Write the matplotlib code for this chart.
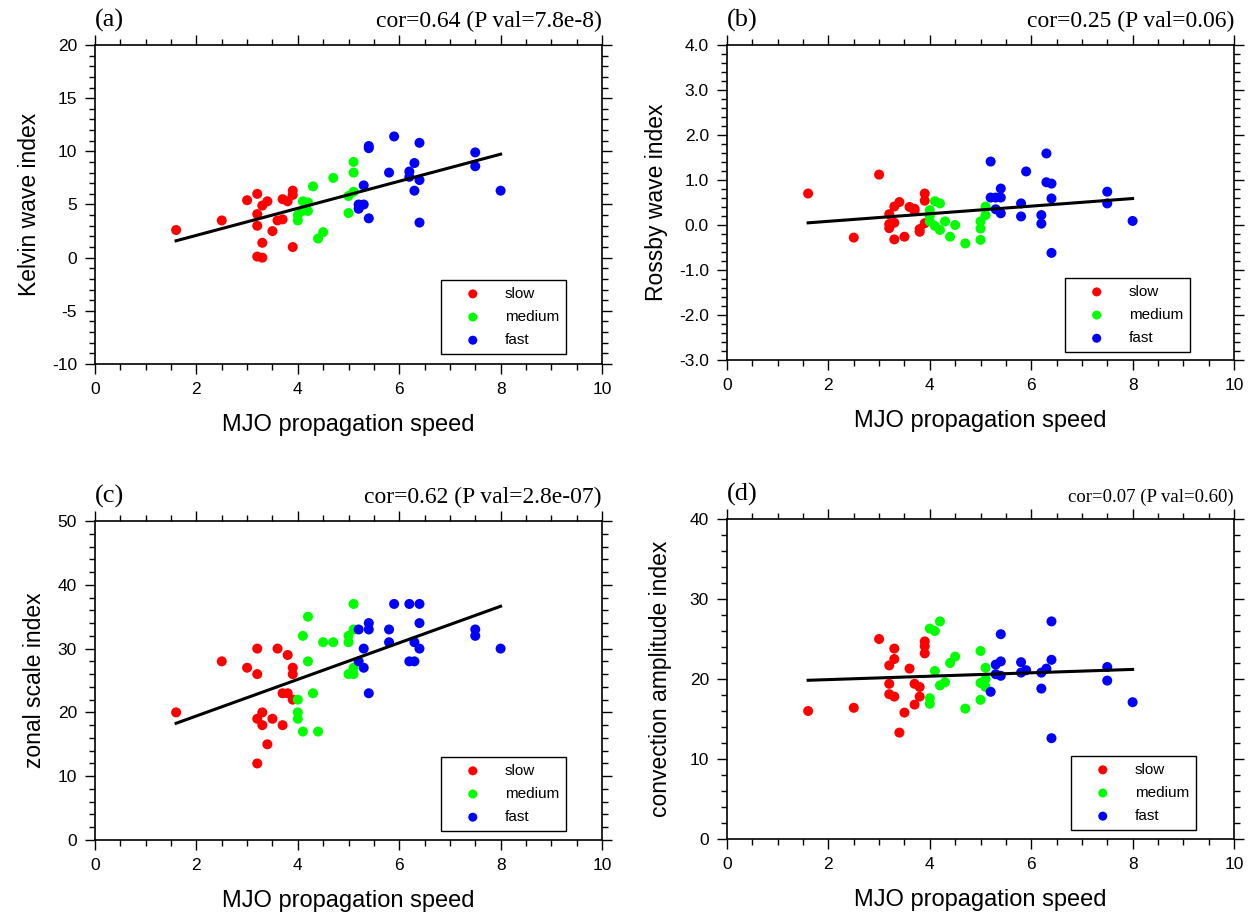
import numpy as np
import matplotlib.pyplot as plt
from matplotlib.ticker import MultipleLocator, FormatStrFormatter

# ---- data ----
# (a) Kelvin wave index
a_slow_x = [1.6, 2.5, 3.0, 3.2, 3.2, 3.2, 3.3, 3.4, 3.3, 3.2, 3.3, 3.5, 3.6, 3.7, 3.7, 3.8, 3.9, 3.9, 3.9]
a_slow_y = [2.6, 3.5, 5.4, 6.0, 4.1, 3.0, 4.9, 5.3, 1.4, 0.1, 0.0, 2.5, 3.5, 3.6, 5.5, 5.3, 6.3, 5.9, 1.0]
a_med_x = [4.0, 4.0, 4.1, 4.1, 4.2, 4.2, 4.3, 4.4, 4.5, 4.7, 5.0, 5.0, 5.1, 5.1, 5.1]
a_med_y = [4.0, 3.5, 5.3, 4.4, 5.2, 4.4, 6.7, 1.8, 2.4, 7.5, 5.8, 4.2, 9.0, 8.0, 6.2]
a_fast_x = [5.2, 5.3, 5.2, 5.3, 5.4, 5.4, 5.4, 5.8, 5.9, 6.2, 6.2, 6.3, 6.3, 6.4, 6.4, 6.4, 7.5, 7.5, 8.0]
a_fast_y = [5.0, 5.0, 4.6, 6.8, 3.7, 10.5, 10.3, 8.0, 11.4, 8.1, 7.6, 8.9, 6.3, 10.8, 7.3, 3.3, 9.9, 8.6, 6.3]

# (b) Rossby wave index
b_slow_x = [1.6, 3.0, 2.5, 3.2, 3.2, 3.2, 3.3, 3.4, 3.3, 3.3, 3.5, 3.6, 3.7, 3.7, 3.8, 3.8, 3.9, 3.9, 3.9]
b_slow_y = [0.70, 1.12, -0.28, 0.24, 0.02, -0.07, 0.41, 0.51, 0.05, -0.32, -0.26, 0.40, 0.36, 0.31, -0.09, -0.15, 0.70, 0.54, 0.04]
b_med_x = [4.0, 4.0, 4.0, 4.1, 4.2, 4.1, 4.2, 4.3, 4.5, 4.4, 4.7, 5.0, 5.0, 5.0, 5.1, 5.1]
b_med_y = [0.33, 0.20, 0.08, 0.53, 0.48, -0.02, -0.11, 0.08, 0.0, -0.26, -0.41, 0.08, -0.08, -0.33, 0.41, 0.22]
b_fast_x = [5.2, 6.3, 5.9, 6.3, 6.4, 5.4, 5.2, 5.3, 5.4, 6.4, 5.8, 5.3, 5.4, 5.8, 6.2, 6.2, 6.4, 7.5, 7.5, 8.0]
b_fast_y = [1.41, 1.59, 1.19, 0.95, 0.92, 0.81, 0.61, 0.61, 0.61, 0.59, 0.48, 0.35, 0.26, 0.19, 0.22, 0.03, -0.62, 0.74, 0.48, 0.09]

# (c) zonal scale index
c_slow_x = [1.6, 2.5, 3.0, 3.2, 3.2, 3.2, 3.3, 3.3, 3.2, 3.4, 3.5, 3.6, 3.7, 3.8, 3.7, 3.8, 3.9, 3.9, 3.9]
c_slow_y = [20, 28, 27, 30, 26, 19, 20, 18, 12, 15, 19, 30, 23, 23, 18, 29, 27, 26, 22]
c_med_x = [4.0, 4.0, 4.0, 4.1, 4.4, 4.1, 4.2, 4.2, 4.3, 4.5, 4.7, 5.0, 5.0, 5.1, 5.1, 5.1, 5.0, 5.1]
c_med_y = [22, 20, 19, 17, 17, 32, 35, 28, 23, 31, 31, 31, 32, 37, 33, 27, 26, 26]
c_fast_x = [5.9, 6.2, 6.4, 5.4, 5.2, 5.4, 5.8, 6.4, 5.8, 6.3, 6.4, 5.3, 5.2, 5.3, 6.2, 6.3, 5.4, 7.5, 7.5, 8.0]
c_fast_y = [37, 37, 37, 34, 33, 33, 33, 34, 31, 31, 30, 30, 28, 27, 28, 28, 23, 33, 32, 30]

# (d) convection amplitude index
d_slow_x = [1.6, 2.5, 3.0, 3.2, 3.3, 3.3, 3.2, 3.2, 3.3, 3.4, 3.5, 3.6, 3.7, 3.8, 3.8, 3.7, 3.9, 3.9, 3.9]
d_slow_y = [16.0, 16.4, 25.0, 21.7, 22.5, 23.8, 19.4, 18.1, 17.8, 13.3, 15.8, 21.3, 19.4, 19.0, 17.8, 16.8, 24.7, 24.1, 23.2]
d_med_x = [4.0, 4.0, 4.0, 4.1, 4.2, 4.1, 4.2, 4.3, 4.4, 4.5, 4.7, 5.0, 5.0, 5.0, 5.1, 5.1, 5.1]
d_med_y = [17.6, 16.9, 26.3, 26.0, 27.2, 21.0, 19.2, 19.6, 22.0, 22.8, 16.3, 23.5, 19.5, 17.4, 20.0, 21.4, 19.0]
d_fast_x = [5.2, 5.3, 5.3, 5.4, 5.4, 5.4, 5.8, 5.9, 5.8, 6.2, 6.2, 6.3, 6.4, 6.4, 6.4, 7.5, 7.5, 8.0]
d_fast_y = [18.4, 20.6, 21.8, 22.2, 25.6, 20.4, 22.1, 21.1, 20.8, 20.8, 18.8, 21.3, 27.2, 22.4, 12.6, 21.5, 19.8, 17.1]

labels = ['slow', 'medium', 'fast']
colors = ['#ff0000', '#00ff00', '#0000ff']

plt.rcParams['font.family'] = 'Liberation Sans'

fig = plt.figure(figsize=(12.56, 9.15), dpi=100)
W, H = 1256.0, 915.0

def make_ax(l, r, t, b):
   return fig.add_axes([l/W, 1-b/H, (r-l)/W, (b-t)/H])

panels = [
   # axes box, groups, ylim, major, minor, fmt, ylabel, ylabel pad, tag, cor text, cor size, legend anchor
   (make_ax(95, 602, 45, 364),
    [(a_slow_x, a_slow_y), (a_med_x, a_med_y), (a_fast_x, a_fast_y)],
    (-10, 20), 5, 1, '%d', 'Kelvin wave index', 8, '(a)', 'cor=0.64 (P val=7.8e-8)', 17, (0.929, 0.031)),
   (make_ax(727, 1234, 45, 360),
    [(b_slow_x, b_slow_y), (b_med_x, b_med_y), (b_fast_x, b_fast_y)],
    (-3, 4), 1, 0.2, '%.1f', 'Rossby wave index', 8, '(b)', 'cor=0.25 (P val=0.06)', 17, (0.913, 0.025)),
   (make_ax(95, 602, 521, 840),
    [(c_slow_x, c_slow_y), (c_med_x, c_med_y), (c_fast_x, c_fast_y)],
    (0, 50), 10, 2, '%d', 'zonal scale index', 8, '(c)', 'cor=0.62 (P val=2.8e-07)', 17, (0.929, 0.028)),
   (make_ax(727, 1234, 519, 839),
    [(d_slow_x, d_slow_y), (d_med_x, d_med_y), (d_fast_x, d_fast_y)],
    (0, 40), 10, 2, '%d', 'convection amplitude index', 13, '(d)', 'cor=0.07 (P val=0.60)', 13.5, (0.925, 0.028)),
]

for ax, groups, ylim, maj, mnr, fmt, ylab, ypad, tag, cor, corsize, anchor in panels:
   allx = []
   ally = []
   for (gx, gy), lab, col in zip(groups, labels, colors):
      ax.scatter(gx, gy, s=52, c=col, edgecolors='none', label=lab, zorder=2)
      allx += gx
      ally += gy
   # least squares fit line
   p = np.polyfit(allx, ally, 1)
   xl = np.array([min(allx), max(allx)])
   ax.plot(xl, np.polyval(p, xl), c='black', lw=2.2, zorder=3)

   ax.set_xlim(0, 10)
   ax.set_ylim(ylim)
   ax.xaxis.set_major_locator(MultipleLocator(2))
   ax.xaxis.set_minor_locator(MultipleLocator(0.5))
   ax.yaxis.set_major_locator(MultipleLocator(maj))
   ax.yaxis.set_minor_locator(MultipleLocator(mnr))
   ax.yaxis.set_major_formatter(FormatStrFormatter(fmt))
   ax.tick_params(which='both', direction='out', top=True, right=True,
                  labeltop=False, labelright=False, width=1.0, labelsize=12.5)
   ax.tick_params(which='major', length=7, pad=6)
   ax.tick_params(which='minor', length=4)
   for s in ax.spines.values():
      s.set_linewidth(1.2)
   ax.set_xlabel('MJO propagation speed', fontsize=17, labelpad=12)
   ax.set_ylabel(ylab, fontsize=16.5, labelpad=ypad)
   ax.text(0.0, 1.04, tag, transform=ax.transAxes, ha='left', va='bottom',
           fontsize=19, family='Liberation Serif')
   ax.text(1.0, 1.04, cor, transform=ax.transAxes, ha='right', va='bottom',
           fontsize=corsize, family='Liberation Serif')
   leg = ax.legend(loc='lower right', bbox_to_anchor=anchor, borderaxespad=0,
                   fontsize=11, frameon=True, fancybox=False, edgecolor='black',
                   framealpha=1, handletextpad=0.5, borderpad=0.45,
                   labelspacing=0.6, handlelength=3.2, markerscale=0.9)
   leg.get_frame().set_linewidth(1.0)

fig.savefig('out.png', dpi=100)
